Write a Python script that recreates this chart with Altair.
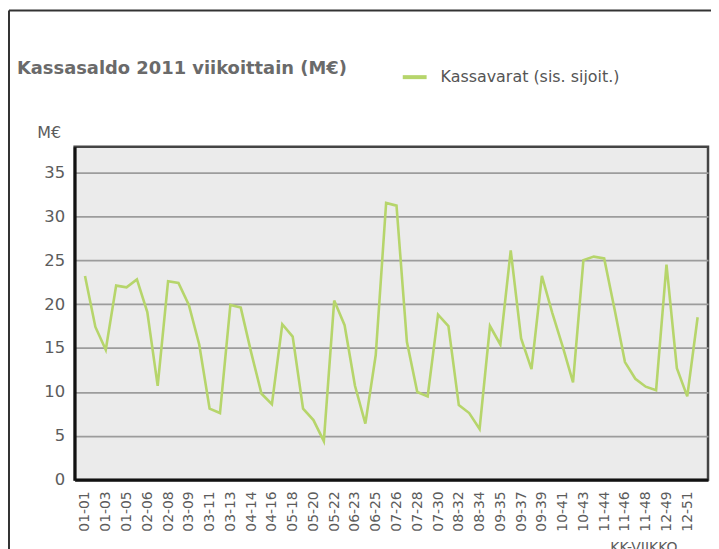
import altair as alt
import pandas as pd

# x categories: month-week (KK-VIIKKO)
categories = [
    "01-01", "01-02", "01-03", "01-04", "01-05", "02-05", "02-06", "02-07", "02-08", "02-09",
    "03-09", "03-10", "03-11", "03-12", "03-13", "04-13", "04-14", "04-15", "04-16", "04-17",
    "05-18", "05-19", "05-20", "05-21", "05-22", "06-22", "06-23", "06-24", "06-25", "06-26",
    "07-26", "07-27", "07-28", "07-29", "07-30", "08-31", "08-32", "08-33", "08-34", "08-35",
    "09-35", "09-36", "09-37", "09-38", "09-39", "10-40", "10-41", "10-42", "10-43", "10-44",
    "11-44", "11-45", "11-46", "11-47", "11-48", "12-48", "12-49", "12-50", "12-51", "12-52",
]

# Kassavarat (sis. sijoit.), M€
kassavarat = [
    23.2, 17.4, 14.8, 22.1, 21.9, 22.8, 19.1, 10.7, 22.6, 22.4,
    19.9, 15.4, 8.1, 7.6, 19.9, 19.6, 14.5, 9.8, 8.6, 17.7,
    16.3, 8.1, 6.8, 4.4, 20.4, 17.6, 10.7, 6.4, 14.2, 31.5,
    31.2, 15.7, 10.0, 9.5, 18.8, 17.5, 8.5, 7.6, 5.8, 17.5,
    15.4, 26.1, 16.1, 12.6, 23.2, 19.0, 15.2, 11.1, 25.0, 25.4,
    25.2, 19.4, 13.4, 11.5, 10.6, 10.2, 24.5, 12.7, 9.5, 18.5,
]

tick_labels = categories[0::2]
y_ticks = [0, 5, 10, 15, 20, 25, 30, 35]

series_name = "Kassavarat (sis. sijoit.)"
title_text = "Kassasaldo 2011 viikoittain (M€)"

df = pd.DataFrame({"kk_viikko": categories, "arvo": kassavarat, "sarja": series_name})

FONT = "DejaVu Sans"
GREEN = "#b6d56b"
TXT = "#5c5c5c"

line = alt.Chart(df).mark_line(strokeWidth=2.6, color=GREEN).encode(
    x=alt.X(
        "kk_viikko:O",
        sort=categories,
        scale=alt.Scale(type="point", padding=1.38),
        axis=alt.Axis(
            values=tick_labels,
            labelAngle=-90,
            labelAlign="right",
            labelBaseline="middle",
            labelPadding=11,
            labelFontSize=14,
            labelFont=FONT,
            labelColor=TXT,
            ticks=False,
            domainColor="#111",
            domainWidth=3,
            grid=False,
            title="KK-VIIKKO",
            titleFont=FONT,
            titleFontSize=14,
            titleFontWeight="normal",
            titleColor=TXT,
            titleX=572,
            titleY=61,
            titleBaseline="top",
            titleAlign="center",
        ),
    ),
    y=alt.Y(
        "arvo:Q",
        scale=alt.Scale(domain=[0, 37.9], nice=False, zero=True),
        axis=alt.Axis(
            values=y_ticks,
            labelFontSize=16.5,
            labelFont=FONT,
            labelColor=TXT,
            labelPadding=10,
            ticks=False,
            domainColor="#111",
            domainWidth=3,
            gridColor="#9c9c9c",
            gridWidth=1.8,
            title="M€",
            titleAngle=0,
            titleFont=FONT,
            titleFontSize=16,
            titleFontWeight="normal",
            titleColor=TXT,
            titleX=-38,
            titleY=-9,
            titleAlign="left",
            titleBaseline="alphabetic",
        ),
    ),
    color=alt.Color(
        "sarja:N",
        scale=alt.Scale(range=[GREEN]),
        legend=alt.Legend(
            orient="none",
            legendX=328,
            legendY=-84,
            title=None,
            padding=0,
            symbolType="stroke",
            symbolSize=576,
            symbolStrokeWidth=4,
            labelFont=FONT,
            labelFontSize=16,
            labelColor="#555555",
            labelOffset=12,
            labelLimit=400,
        ),
    ),
)

one = pd.DataFrame({"k": [0]})

title_mark = alt.Chart(one).mark_text(
    align="left", baseline="alphabetic", font=FONT, fontSize=18,
    fontWeight="bold", color="#6a6a6a",
).encode(x=alt.value(-58), y=alt.value(-73), text=alt.value(title_text))

frame_left = alt.Chart(one).mark_rule(color="#333", strokeWidth=2).encode(
    x=alt.value(-66), y=alt.value(-137), y2=alt.value(420)
)
frame_top = alt.Chart(one).mark_rule(color="#333", strokeWidth=2).encode(
    x=alt.value(-66), x2=alt.value(660), y=alt.value(-137)
)

chart = alt.layer(line, title_mark, frame_left, frame_top).properties(
    width=637,
    height=335,
    autosize=alt.AutoSizeParams(type="none"),
    padding={"left": 67, "top": 138, "right": 3, "bottom": 68},
    background="white",
).configure_view(
    fill="#ebebeb", stroke="#444", strokeWidth=2.5
)

chart.save("out.html", embed_options={"renderer": "svg", "actions": False})
